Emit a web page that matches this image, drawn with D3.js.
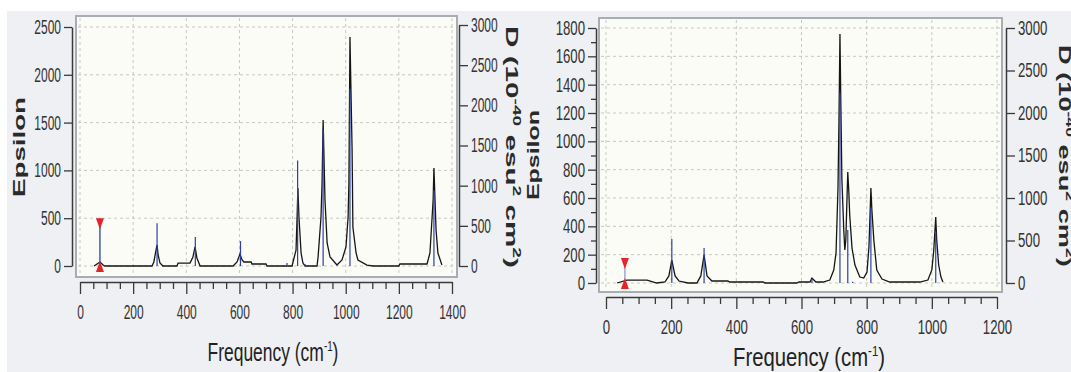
<!DOCTYPE html>
<html>
<head>
<meta charset="utf-8">
<script src="https://cdn.jsdelivr.net/npm/d3@7"></script>
<style>
  body { margin: 0; background: #fff; }
  svg { display: block; }
  text { font-family: "Liberation Sans", Arial, sans-serif; }
</style>
</head>
<body>
<svg id="chart" width="1071" height="372"></svg>
<script>
///////////////////////////////////////////////////
//  Data
///////////////////////////////////////////////////

// left spectrum: broadened curve [freq, epsilon]
const leftCurve = [
  [53, 0], [64, 21], [75, 42], [87, 10], [94, 0], [271, 0], [278, 42], [286, 167],
  [290, 220], [294, 115], [301, 31], [312, 0], [365, 0], [369, 31], [414, 31], [425, 94],
  [433, 199], [440, 84], [452, 0], [576, 0], [591, 42], [602, 125], [610, 63], [617, 42],
  [644, 42], [647, 21], [700, 21], [704, 0], [798, 0], [813, 167], [817, 513], [820, 816],
  [824, 513], [832, 136], [839, 31], [847, 0], [892, 0], [896, 94], [907, 513], [911, 868],
  [915, 1527], [922, 690], [930, 241], [941, 94], [967, 10], [986, 63], [1001, 199],
  [1009, 513], [1012, 868], [1016, 2395], [1024, 1213], [1027, 408], [1039, 136],
  [1046, 63], [1080, 10], [1103, 0], [1200, 0], [1204, 21], [1306, 21], [1317, 136],
  [1329, 690], [1332, 1025], [1340, 377], [1347, 136], [1362, 10]
];
// left sticks [freq, D]
const leftSticks = [
  [290, 533], [434, 360], [604, 310], [779, 37], [819, 1313], [847, 25],
  [915, 1700], [1016, 2206], [1332, 942]
];
const leftMarker = [75, 500];   // [freq, epsilon]

// right spectrum
const rightCurve = [
  [34, 0], [64, 21], [126, 21], [156, 0], [181, 7], [193, 50], [202, 162], [212, 50],
  [224, 14], [252, 0], [279, 0], [291, 50], [301, 198], [310, 50], [325, 14], [374, 14],
  [380, 7], [482, 7], [488, 0], [586, 0], [592, 7], [626, 7], [632, 35], [644, 7],
  [666, 7], [687, 21], [699, 92], [706, 212], [712, 670], [715, 1150], [718, 1757],
  [721, 1222], [724, 727], [730, 360], [733, 233], [736, 303], [742, 783], [745, 656],
  [748, 480], [755, 247], [764, 127], [779, 42], [791, 35], [801, 78], [807, 254],
  [813, 670], [816, 515], [822, 303], [831, 92], [847, 28], [871, 7], [963, 7],
  [988, 21], [1000, 92], [1006, 233], [1012, 466], [1015, 303], [1021, 127],
  [1028, 42], [1034, 7]
];
const rightSticks = [
  [202, 518], [301, 412], [632, 50], [718, 2235], [742, 624], [757, 15],
  [813, 882], [1012, 588]
];
const rightMarker = [58, 176];

// ticks
const leftFreqTicks = [0, 200, 400, 600, 800, 1000, 1200, 1400];
const rightFreqTicks = [0, 200, 400, 600, 800, 1000, 1200];
const leftEpsTicks = [0, 500, 1000, 1500, 2000, 2500];
const rightEpsTicks = [0, 200, 400, 600, 800, 1000, 1200, 1400, 1600, 1800];
const dTicks = [0, 500, 1000, 1500, 2000, 2500, 3000];

///////////////////////////////////////////////////
//  Layout
///////////////////////////////////////////////////

const panels = [
  {
    curve: leftCurve, sticks: leftSticks, marker: leftMarker, markerColor: '#2b3fa8',
    freqTicks: leftFreqTicks, freqMax: 1400, epsTicks: leftEpsTicks, epsMinor: [], epsMax: 2500,
    box: [76, 16, 457, 277], xr: [80, 452], yr: [266, 27], yrD: [266, 25],
    yAxisX: 72, dAxisX: 459, xAxisY: 282, labelScale: 0.6,
    title: { x: 273, y: 361, w: 131 },
    eps: { x: 25, y: 147, len: 100 },
    dLab: { x: 506, y: 147, len: 242 }
  },
  {
    curve: rightCurve, sticks: rightSticks, marker: rightMarker, markerColor: '#8a9acb',
    freqTicks: rightFreqTicks, freqMax: 1200, epsTicks: rightEpsTicks,
    epsMinor: d3.range(100, 1800, 200), epsMax: 1800,
    box: [599, 18, 1002, 292], xr: [606, 997], yr: [283, 28], yrD: [283, 28],
    yAxisX: 596, dAxisX: 1006, xAxisY: 297, labelScale: 0.66,
    title: { x: 809, y: 366, w: 152 },
    eps: { x: 539, y: 155, len: 90 },
    dLab: { x: 1059, y: 156, len: 222 }
  }
];

const svg = d3.select('#chart');
const fmt = d3.format('d');

svg.append('rect')
  .attr('x', 7).attr('y', 11)
  .attr('width', 1064).attr('height', 361)
  .attr('fill', '#eef0f3');

panels.forEach(drawPanel);

function drawPanel(p) {
  const g = svg.append('g');
  const x = d3.scaleLinear().domain([0, p.freqMax]).range(p.xr);
  const y = d3.scaleLinear().domain([0, p.epsMax]).range(p.yr);
  const yD = d3.scaleLinear().domain([0, 3000]).range(p.yrD);
  const [bx0, by0, bx1, by1] = p.box;

  g.append('rect')
    .attr('x', bx0).attr('y', by0)
    .attr('width', bx1 - bx0).attr('height', by1 - by0)
    .attr('fill', '#fcfcf6')
    .attr('stroke', '#a8adb3')
    .attr('stroke-width', 2);

  // dashed grid
  g.selectAll('.hgrid').data(p.epsTicks).join('line')
    .attr('x1', bx0 + 2).attr('x2', bx1 - 2)
    .attr('y1', d => y(d)).attr('y2', d => y(d))
    .attr('stroke', '#c6c6c6').attr('stroke-dasharray', '3,3');
  g.selectAll('.vgrid').data(p.freqTicks).join('line')
    .attr('y1', by0 + 2).attr('y2', by1 - 2)
    .attr('x1', d => x(d)).attr('x2', d => x(d))
    .attr('stroke', '#c6c6c6').attr('stroke-dasharray', '3,3');

  // broadened spectrum
  g.append('path')
    .datum(p.curve)
    .attr('d', d3.line().x(d => x(d[0])).y(d => y(d[1])))
    .attr('fill', 'none')
    .attr('stroke', '#151515')
    .attr('stroke-width', 1.3);

  // sticks
  g.selectAll('.stick').data(p.sticks).join('line')
    .attr('x1', d => x(d[0])).attr('x2', d => x(d[0]))
    .attr('y1', yD(0)).attr('y2', d => yD(d[1]))
    .attr('stroke', '#2a40a8')
    .attr('stroke-width', 1.2);

  // marker
  const mx = x(p.marker[0]);
  const my = y(p.marker[1]);
  g.append('line')
    .attr('x1', mx).attr('x2', mx).attr('y1', my).attr('y2', y(0) + 4)
    .attr('stroke', p.markerColor).attr('stroke-width', 1.3);
  g.append('path')
    .attr('d', `M${mx - 4},${my}L${mx + 4},${my}L${mx},${my + 11}Z`)
    .attr('fill', '#e3242b');
  g.append('path')
    .attr('d', `M${mx - 4},${y(0) + 6}L${mx + 4},${y(0) + 6}L${mx},${y(0) - 5}Z`)
    .attr('fill', '#e3242b');

  // axes
  const sx = p.labelScale;
  const axisStyle = sel => {
    sel.select('.domain').attr('stroke', '#3a3a3a').attr('stroke-width', 1.5);
    sel.selectAll('.tick line').attr('stroke', '#3a3a3a').attr('stroke-width', 1.3);
    sel.selectAll('text').attr('font-size', 20).attr('fill', '#333');
  };

  const ax = g.append('g')
    .attr('transform', `translate(0,${p.xAxisY})`)
    .call(d3.axisBottom(x).tickValues(p.freqTicks).tickFormat(fmt)
      .tickSize(12).tickSizeOuter(0).tickPadding(11));
  axisStyle(ax);
  ax.selectAll('text').attr('transform', `scale(${sx},1)`);

  const freqMinor = d3.range(50, p.freqMax, 50).filter(v => v % 200);
  const axm = g.append('g')
    .attr('transform', `translate(0,${p.xAxisY})`)
    .call(d3.axisBottom(x).tickValues(freqMinor).tickSize(7).tickFormat(''));
  axm.select('.domain').remove();
  axm.selectAll('line').attr('stroke', '#3a3a3a').attr('stroke-width', 1.3);

  const ay = g.append('g')
    .attr('transform', `translate(${p.yAxisX},0)`)
    .call(d3.axisLeft(y).tickValues(p.epsTicks).tickFormat(fmt).tickSize(8).tickSizeOuter(0));
  axisStyle(ay);
  ay.selectAll('text').attr('x', -11 / sx).attr('transform', `scale(${sx},1)`);

  if (p.epsMinor.length) {
    const aym = g.append('g')
      .attr('transform', `translate(${p.yAxisX},0)`)
      .call(d3.axisLeft(y).tickValues(p.epsMinor).tickSize(5).tickFormat(''));
    aym.select('.domain').remove();
    aym.selectAll('line').attr('stroke', '#3a3a3a').attr('stroke-width', 1.3);
  }

  const ad = g.append('g')
    .attr('transform', `translate(${p.dAxisX},0)`)
    .call(d3.axisRight(yD).tickValues(dTicks).tickFormat(fmt).tickSize(9).tickSizeOuter(0));
  axisStyle(ad);
  ad.selectAll('text').attr('x', 12 / sx).attr('transform', `scale(${sx},1)`);

  // titles
  const t = g.append('text').attr('font-size', 25).attr('fill', '#222');
  t.append('tspan').text('Frequency (cm');
  t.append('tspan').attr('font-size', 14).attr('dy', -10).text('-1');
  t.append('tspan').attr('dy', 10).text(')');
  fitText(t, p.title.x, p.title.y, p.title.w, 0);

  const e = g.append('text').attr('font-size', 16).attr('font-weight', 'bold').attr('fill', '#2a2a2a')
    .text('Epsilon');
  fitText(e, p.eps.x, p.eps.y, p.eps.len, -90);

  const dl = g.append('text').attr('font-size', 17).attr('font-weight', 'bold').attr('fill', '#2a2a2a');
  dl.append('tspan').text('D (10');
  dl.append('tspan').attr('font-size', 11).attr('dy', -7).text('-40');
  dl.append('tspan').attr('dy', 7).text(' esu');
  dl.append('tspan').attr('font-size', 11).attr('dy', -7).text('2');
  dl.append('tspan').attr('dy', 7).text(' cm');
  dl.append('tspan').attr('font-size', 11).attr('dy', -7).text('2');
  dl.append('tspan').attr('dy', 7).text(')');
  fitText(dl, p.dLab.x, p.dLab.y, p.dLab.len, 90);
}

// stretch a text along its own direction to a given length, centred on (cx, cy)
function fitText(t, cx, cy, len, rot) {
  const w = t.node().getBBox().width;
  t.attr('x', -w / 2)
    .attr('transform', `translate(${cx},${cy}) rotate(${rot}) scale(${len / w},1)`);
}
</script>
</body>
</html>
